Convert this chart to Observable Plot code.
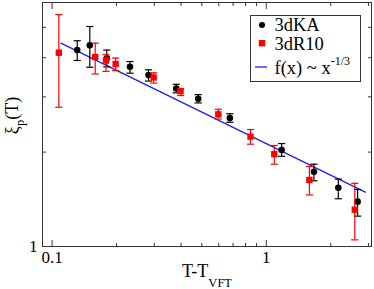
<!DOCTYPE html>
<html><head><meta charset="utf-8">
<script src="https://cdn.jsdelivr.net/npm/d3@7"></script>
<script src="https://cdn.jsdelivr.net/npm/@observablehq/plot@0.6"></script>
<style>body{margin:0;background:#fff} #chart{width:374px;height:289px} #chart svg text{font-family:"Liberation Serif",serif}</style>
</head><body><div id="chart"></div>
<script>
// 3dKA series
const kaX  = [0.131, 0.150, 0.180, 0.231, 0.282, 0.380, 0.481, 0.676, 1.18, 1.67, 2.17, 2.67];
const kaY  = [4.23, 4.38, 3.98, 3.74, 3.52, 3.19, 2.96, 2.57, 2.03, 1.73, 1.54, 1.39];
const kaLo = [3.92, 3.73, 3.74, 3.57, 3.37, 3.09, 2.87, 2.49, 1.94, 1.62, 1.42, 1.25];
const kaHi = [4.53, 5.03, 4.23, 3.89, 3.66, 3.29, 3.05, 2.65, 2.13, 1.83, 1.64, 1.52];
// 3dR10 series
const r10X  = [0.1075, 0.159, 0.1785, 0.198, 0.298, 0.398, 0.597, 0.844, 1.09, 1.59, 2.59];
const r10Y  = [4.15, 4.02, 3.92, 3.82, 3.46, 3.13, 2.64, 2.24, 1.97, 1.63, 1.31];
const r10Lo = [2.78, 3.55, 3.62, 3.64, 3.32, 3.03, 2.55, 2.12, 1.83, 1.46, 1.05];
const r10Hi = [5.49, 4.45, 4.09, 3.99, 3.58, 3.19, 2.74, 2.36, 2.10, 1.80, 1.59];
// fit line f(x) ~ x^(-1/3), endpoints
const fitX = [0.11, 2.9];
const fitY = [4.45, 1.49];
// ticks
const xMajor = [0.1, 1];
const xMajorLabels = ["0.1", "1"];
const xMinor = [0.2, 0.3, 0.4, 0.5, 0.6, 0.7, 0.8, 0.9, 2, 3];
const yMinor = [2, 3, 4, 5];
const yLabelTicks = [1];
const yLabels = ["1"];
const legendNames = ["3dKA", "3dR10"];

const ka = kaX.map((x, i) => ({x, y: kaY[i], lo: kaLo[i], hi: kaHi[i]}));
const r10 = r10X.map((x, i) => ({x, y: r10Y[i], lo: r10Lo[i], hi: r10Hi[i]}));
const fit = fitX.map((x, i) => ({x, y: fitY[i]}));

const hline = {draw(ctx, size) { const r = Math.sqrt(size / Math.PI); ctx.moveTo(-r, 0); ctx.lineTo(r, 0); }};
const frameColor = "#333";
const blank = () => "";
const ff = "Liberation Serif";

function errMarks(data, color) {
  return [
    Plot.ruleX(data, {x: "x", y1: "lo", y2: "hi", stroke: color, strokeWidth: 1.2}),
    Plot.dot(data, {x: "x", y: "lo", symbol: hline, r: 3.6, stroke: color, strokeWidth: 1.2}),
    Plot.dot(data, {x: "x", y: "hi", symbol: hline, r: 3.6, stroke: color, strokeWidth: 1.2})
  ];
}

const chart = Plot.plot({
  width: 374, height: 289,
  marginLeft: 42, marginRight: 3, marginTop: 2, marginBottom: 43,
  style: {fontFamily: ff, color: "#000", background: "#fff"},
  x: {type: "log", domain: [0.0902, 3.1]},
  y: {type: "log", domain: [1, 6]},
  marks: [
    Plot.frame({stroke: frameColor}),
    Plot.axisX(xMajor, {anchor: "bottom", tickSize: -6, tickFormat: blank, label: null, stroke: frameColor}),
    Plot.axisX(xMinor, {anchor: "bottom", tickSize: -3, tickFormat: blank, label: null, stroke: frameColor}),
    Plot.axisX(xMajor, {anchor: "top", tickSize: -6, tickFormat: blank, label: null, stroke: frameColor}),
    Plot.axisX(xMinor, {anchor: "top", tickSize: -3, tickFormat: blank, label: null, stroke: frameColor}),
    Plot.axisX(xMajor, {anchor: "bottom", tickSize: 0, tickPadding: 4, fontSize: 17, label: null,
      tickFormat: d => xMajorLabels[xMajor.indexOf(d)]}),
    Plot.axisY(yMinor, {anchor: "left", tickSize: -4, tickFormat: blank, label: null, stroke: frameColor}),
    Plot.axisY(yMinor, {anchor: "right", tickSize: -4, tickFormat: blank, label: null, stroke: frameColor}),
    Plot.axisY(yLabelTicks, {anchor: "left", tickSize: 0, tickPadding: 5, fontSize: 17, label: null,
      tickFormat: d => yLabels[yLabelTicks.indexOf(d)]}),
    Plot.line(fit, {x: "x", y: "y", stroke: "#1c1cff", strokeWidth: 1.3}),
    ...errMarks(ka, "#000"),
    Plot.dot(ka, {x: "x", y: "y", r: 3.3, fill: "#000"}),
    ...errMarks(r10, "#ff0000"),
    Plot.dot(r10, {x: "x", y: "y", r: 3.6, symbol: "square", fill: "#ff0000"})
  ]
});
document.getElementById("chart").appendChild(chart);

const svg = d3.select(chart);
// x label
const xl = svg.append("text").attr("x", 207).attr("y", 276.5).attr("text-anchor", "middle")
  .attr("font-size", 18).attr("fill", "#000");
xl.append("tspan").text("T-T");
xl.append("tspan").attr("dy", 10).attr("font-size", 12.5).text("VFT");
// y label
const yl = svg.append("text").attr("transform", "translate(18,115.5) rotate(-90)").attr("text-anchor", "middle")
  .attr("font-size", 18).attr("fill", "#000");
yl.append("tspan").text("ξ");
yl.append("tspan").attr("dy", 6).attr("font-size", 12.5).text("p");
yl.append("tspan").attr("dy", -6).text("(T)");
// legend
const lg = svg.append("g").attr("text-anchor", "start");
lg.append("rect").attr("x", 250.5).attr("y", 15.5).attr("width", 110).attr("height", 66)
  .attr("fill", "#fff").attr("stroke", frameColor);
lg.append("circle").attr("cx", 262).attr("cy", 25).attr("r", 3).attr("fill", "#000");
lg.append("rect").attr("x", 258.8).attr("y", 40).attr("width", 6.4).attr("height", 6.4).attr("fill", "#ff0000");
lg.append("line").attr("x1", 255).attr("x2", 267).attr("y1", 67).attr("y2", 67).attr("stroke", "#1c1cff").attr("stroke-width", 1.3);
const lt = (y, s) => lg.append("text").attr("x", 274.5).attr("y", y).attr("text-anchor", "start")
  .attr("font-size", 18.5).attr("fill", "#000").text(s);
lt(31, legendNames[0]);
lt(49.5, legendNames[1]);
const ft = lg.append("text").attr("x", 274.5).attr("y", 73.5).attr("text-anchor", "start").attr("font-size", 18.5).attr("fill", "#000");
ft.append("tspan").text("f(x) ~ x");
ft.append("tspan").attr("dy", -8.5).attr("font-size", 12).text("-1/3");
</script>
</body></html>
